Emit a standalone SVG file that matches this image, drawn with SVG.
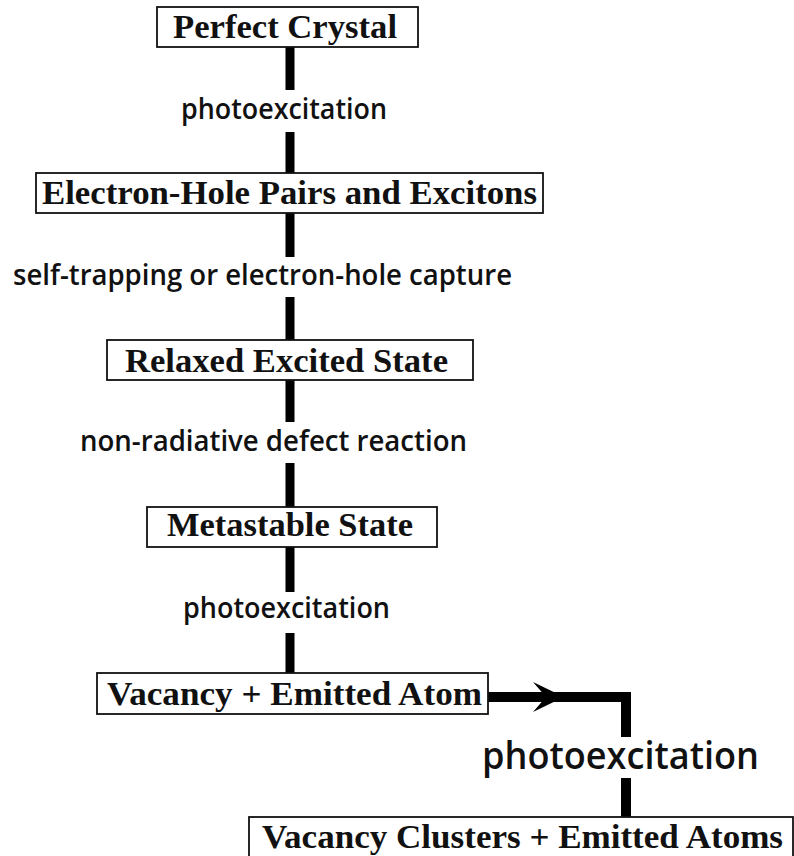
<svg xmlns="http://www.w3.org/2000/svg" width="794" height="856" viewBox="0 0 794 856">
<style>
.box{fill:#fff;stroke:#111;stroke-width:1.8}
.nt{font-family:"Liberation Serif","Times New Roman",serif;font-weight:bold;font-size:34px;fill:#111}
.lb{font-family:"Open Sans","Liberation Sans",sans-serif;font-weight:600;font-size:28px;fill:#111}
.big{font-size:38px}
.wire{fill:none;stroke:#000;stroke-width:9;stroke-linecap:butt}
.wire2{fill:none;stroke:#000;stroke-width:10;stroke-linecap:butt;stroke-linejoin:miter}
.head{fill:#000;stroke:none}
</style>
<rect width="794" height="856" fill="#fff"/>
<g id="connectors">
<path class="wire" d="M290,47 V90 M290,132 V173 M290,213 V257 M290,297 V340 M290,380 V422 M290,463 V507 M290,547 V592 M290,633 V673"/>
<path class="wire2" d="M488,697 H626 V737 M626,778 V817"/>
<path class="head" d="M533,682 L564,697 L533,712 L546,697 Z"/>
<text class="lb" x="181" y="119" textLength="206" lengthAdjust="spacingAndGlyphs">photoexcitation</text>
<text class="lb" x="13" y="285" textLength="499" lengthAdjust="spacingAndGlyphs">self-trapping or electron-hole capture</text>
<text class="lb" x="80" y="451" textLength="387" lengthAdjust="spacingAndGlyphs">non-radiative defect reaction</text>
<text class="lb" x="183" y="618" textLength="207" lengthAdjust="spacingAndGlyphs">photoexcitation</text>
<text class="lb big" x="482" y="769" textLength="277" lengthAdjust="spacingAndGlyphs">photoexcitation</text>
</g>
<g id="n1">
<rect class="box" x="157" y="7" width="261" height="40"/>
<text class="nt" x="173" y="38" textLength="224" lengthAdjust="spacingAndGlyphs">Perfect Crystal</text>
</g>
<g id="n2">
<rect class="box" x="36" y="173" width="507" height="40"/>
<text class="nt" x="42" y="204" textLength="495" lengthAdjust="spacingAndGlyphs">Electron-Hole Pairs and Excitons</text>
</g>
<g id="n3">
<rect class="box" x="107" y="340" width="366" height="40"/>
<text class="nt" x="125" y="372" textLength="323" lengthAdjust="spacingAndGlyphs">Relaxed Excited State</text>
</g>
<g id="n4">
<rect class="box" x="147" y="507" width="290" height="40"/>
<text class="nt" x="167" y="536" textLength="246" lengthAdjust="spacingAndGlyphs">Metastable State</text>
</g>
<g id="n5">
<rect class="box" x="97" y="673" width="391" height="41"/>
<text class="nt" x="107" y="705" textLength="375" lengthAdjust="spacingAndGlyphs">Vacancy + Emitted Atom</text>
</g>
<g id="n6">
<rect class="box" x="249" y="817" width="544" height="50"/>
<text class="nt" x="262" y="848" textLength="521" lengthAdjust="spacingAndGlyphs">Vacancy Clusters + Emitted Atoms</text>
</g>
</svg>
